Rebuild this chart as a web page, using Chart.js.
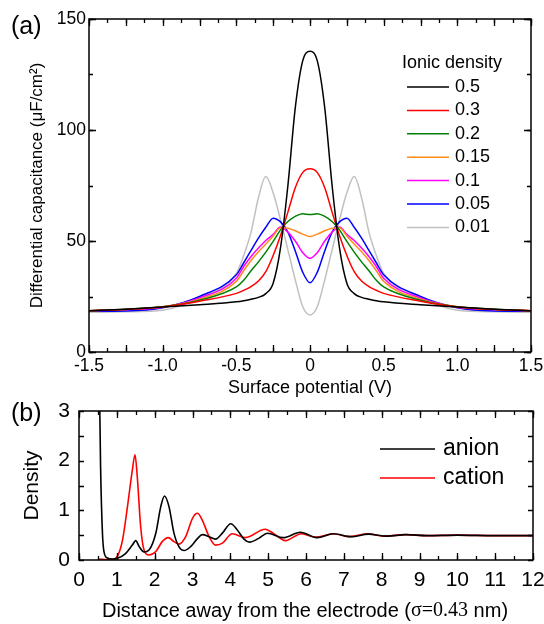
<!DOCTYPE html>
<html>
<head>
<meta charset="utf-8">
<script src="https://cdn.jsdelivr.net/npm/chart.js@4.4.0/dist/chart.umd.min.js"></script>
<style>
  body { margin: 0; background: #fff; }
  canvas { position: absolute; left: 0; }
  #chartA { top: 0; }
  #chartB { top: 400px; }
</style>
</head>
<body>
<canvas id="chartA" width="544" height="400"></canvas>
<canvas id="chartB" width="544" height="224"></canvas>
<script>
//#region Data (a)
const potential = [-1.5, -1.25, -1.0, -0.75, -0.5, -0.45, -0.4, -0.35, -0.3, -0.25, -0.2, -0.15, -0.1, -0.05, 0,
    0.05, 0.1, 0.15, 0.2, 0.25, 0.3, 0.35, 0.4, 0.45, 0.5, 0.75, 1.0, 1.25, 1.5]
const ionicDensity = ['0.5', '0.3', '0.2', '0.15', '0.1', '0.05', '0.01']

const cap05 = [18.6, 19.3, 20.3, 21.3, 22.6, 23.1, 23.8, 24.6, 26.3, 31, 47, 75, 110, 131, 135.5,
    131, 110, 75, 47, 31, 26.3, 24.6, 23.8, 23.1, 22.6, 21.3, 20.3, 19.3, 18.6]
const cap03 = [18.6, 19.2, 20.3, 22.9, 26.4, 27.8, 29.5, 32, 36.2, 43.5, 52.5, 63, 74, 80.8, 82.5,
    80.8, 74, 63, 52.5, 43.5, 36.2, 32, 29.5, 27.8, 26.4, 22.9, 20.3, 19.2, 18.6]
const cap02 = [18.6, 19.3, 20.4, 23.3, 29.3, 32.3, 36.6, 40.6, 45, 49.8, 55, 58.8, 61.1, 62.3, 61.9,
    62.3, 61.1, 58.8, 55, 49.8, 45, 40.6, 36.6, 32.3, 29.3, 23.3, 20.4, 19.3, 18.6]
const cap015 = [18.6, 19.2, 20.4, 23.8, 31.8, 36.6, 41.2, 45.2, 48.6, 52.3, 56, 55.7, 54.6, 53.1, 52,
    53.1, 54.6, 55.7, 56, 52.3, 48.6, 45.2, 41.2, 36.6, 31.8, 23.8, 20.4, 19.2, 18.6]
const cap01 = [18.6, 19.1, 20.2, 24.3, 33.2, 38.5, 43, 46.8, 50.2, 53, 56.3, 54, 50, 44.8, 42.2,
    44.8, 50, 54, 56.3, 53, 50.2, 46.8, 43, 38.5, 33.2, 24.3, 20.2, 19.1, 18.6]
const cap005 = [18.4, 18.5, 19.9, 25, 34.8, 40.2, 45.8, 51.3, 56.2, 60.3, 58.6, 54, 45.5, 36, 31.2,
    36, 45.5, 54, 58.6, 60.3, 56.2, 51.3, 45.8, 40.2, 34.8, 25, 19.9, 18.5, 18.4]
const cap001 = [17.9, 18.1, 18.8, 24.6, 35.4, 43.5, 54, 69.5, 79, 71.7, 59.5, 46, 32.5, 20.5, 16.7,
    20.5, 32.5, 46, 59.5, 71.7, 79, 69.5, 54, 43.5, 35.4, 24.6, 18.8, 18.1, 17.9]
const capacitance = [cap05, cap03, cap02, cap015, cap01, cap005, cap001]

const potentialTicks = [-1.5, -1.0, -0.5, 0, 0.5, 1.0, 1.5]
const capacitanceTicks = [0, 50, 100, 150]
//#endregion

//#region Data (b)
const anionDistance = [0.54, 0.57, 0.62, 0.66, 0.75, 0.88, 1.0, 1.23, 1.41, 1.5, 1.59, 1.72, 1.85, 2.03, 2.16,
    2.26, 2.38, 2.51, 2.64, 2.78, 2.95, 3.13, 3.26, 3.44, 3.61, 3.79, 4.01, 4.19, 4.36, 4.51, 4.76, 4.98,
    5.4, 5.85, 6.3, 6.72, 7.2, 7.65, 8.15, 8.65, 9.2, 10, 11, 12]
const anionDensity = [3.6, 1.9, 0.54, 0.17, 0.04, 0.02, 0.03, 0.13, 0.3, 0.39, 0.27, 0.16, 0.2, 0.54, 1.07,
    1.29, 1.07, 0.54, 0.27, 0.19, 0.27, 0.43, 0.51, 0.47, 0.42, 0.54, 0.73, 0.6, 0.42, 0.36, 0.44, 0.54,
    0.45, 0.56, 0.45, 0.53, 0.47, 0.52, 0.48, 0.51, 0.49, 0.5, 0.49, 0.49]
const cationDistance = [0.5, 0.85, 1.01, 1.15, 1.28, 1.41, 1.48, 1.54, 1.63, 1.72, 1.85, 2.03, 2.2, 2.36,
    2.51, 2.64, 2.82, 3.0, 3.13, 3.26, 3.44, 3.61, 3.79, 4.05, 4.4, 4.92, 5.15, 5.45, 5.88, 6.25, 6.73,
    7.15, 7.6, 8.1, 8.6, 9.2, 10, 11, 12]
const cationDensity = [0.02, 0.0, 0.07, 0.4, 1.07, 1.81, 2.12, 1.68, 0.67, 0.2, 0.1, 0.17, 0.37, 0.45,
    0.37, 0.32, 0.47, 0.84, 0.94, 0.8, 0.47, 0.3, 0.34, 0.53, 0.45, 0.62, 0.53, 0.39, 0.53, 0.46, 0.53,
    0.47, 0.53, 0.48, 0.51, 0.49, 0.5, 0.49, 0.49]
const ionLabels = ['anion', 'cation']
//#endregion

const SANS = "'Liberation Sans', Arial, sans-serif"
const SERIF = "'Liberation Serif', 'Times New Roman', serif"
const lineColors = ['#000000', '#ff0000', '#008000', '#ff8c1a', '#ff00ff', '#0000ff', '#c0c0c0']

Chart.defaults.font.family = SANS
Chart.defaults.color = '#000'

//#region Plugins
// box + inward ticks on all four sides
const frameTicks = {
    id: 'frameTicks',
    afterDraw(chart, args, opts) {
        const { ctx, chartArea: a, scales } = chart
        ctx.save()
        ctx.strokeStyle = '#000'
        ctx.lineWidth = 1.3
        const marks = (scale, list, horizontal) => {
            list.forEach(({ step, len }) => {
                const n = Math.round((scale.max - scale.min) / step)
                for (let i = 0; i <= n; i++) {
                    const p = Math.round(scale.getPixelForValue(scale.min + i * step)) + 0.5
                    ctx.beginPath()
                    if (horizontal) {
                        ctx.moveTo(p, a.bottom); ctx.lineTo(p, a.bottom - len)
                        ctx.moveTo(p, a.top); ctx.lineTo(p, a.top + len)
                    } else {
                        ctx.moveTo(a.left, p); ctx.lineTo(a.left + len, p)
                        ctx.moveTo(a.right, p); ctx.lineTo(a.right - len, p)
                    }
                    ctx.stroke()
                }
            })
        }
        marks(scales.x, opts.x, true)
        marks(scales.y, opts.y, false)
        ctx.lineWidth = 1.5
        ctx.strokeRect(a.left, a.top, a.right - a.left, a.bottom - a.top)
        ctx.restore()
    }
}

// legend drawn from the datasets
const legendBox = {
    id: 'legendBox',
    afterDraw(chart, args, o) {
        const { ctx } = chart
        ctx.save()
        ctx.font = `${o.size}px ${SANS}`
        ctx.fillStyle = '#000'
        ctx.textBaseline = 'middle'
        if (o.title) ctx.fillText(o.title, o.titleX, o.titleY)
        chart.data.datasets.forEach((ds, i) => {
            const y = o.y + i * o.dy
            ctx.strokeStyle = ds.borderColor
            ctx.lineWidth = 1.5
            ctx.beginPath()
            ctx.moveTo(o.x, y)
            ctx.lineTo(o.x + o.lineLen, y)
            ctx.stroke()
            ctx.fillText(ds.label, o.x + o.lineLen + o.gap, y)
        })
        ctx.restore()
    }
}

const panelText = {
    id: 'panelText',
    afterDraw(chart, args, o) {
        const { ctx } = chart
        ctx.save()
        ctx.fillStyle = '#000'
        ctx.textBaseline = 'middle'
        o.items.forEach(item => {
            let w = 0
            item.parts.forEach(p => { ctx.font = p.font; w += ctx.measureText(p.text).width })
            let x = item.align === 'center' ? item.x - w / 2 : item.x
            item.parts.forEach(p => {
                ctx.font = p.font
                ctx.fillText(p.text, x, item.y)
                x += ctx.measureText(p.text).width
            })
        })
        ctx.restore()
    }
}
//#endregion

//#region Chart (a)
new Chart('chartA', {
    type: 'line',
    data: {
        datasets: ionicDensity.map((label, i) => ({
            label,
            data: potential.map((v, j) => ({ x: v, y: capacitance[i][j] })),
            borderColor: lineColors[i],
            borderWidth: 1.5,
            pointRadius: 0,
            cubicInterpolationMode: 'monotone',
            fill: false
        }))
    },
    options: {
        responsive: false,
        animation: false,
        layout: { padding: { top: 19, right: 13, left: 0, bottom: 0 } },
        scales: {
            x: {
                type: 'linear', min: -1.5, max: 1.5,
                afterBuildTicks: s => { s.ticks = potentialTicks.map(value => ({ value })) },
                ticks: {
                    padding: 4, maxRotation: 0, autoSkip: false, font: { size: 17.5 },
                    callback: v => v === 0 ? '0' : v.toFixed(1)
                },
                grid: { display: false, drawTicks: false },
                border: { display: false },
                title: { display: true, text: 'Surface potential (V)', font: { size: 18 }, padding: { top: 0, bottom: 1 } },
                afterFit: s => { s.height = 48; s.paddingLeft = 0; s.paddingRight = 0 }
            },
            y: {
                min: 0, max: 150,
                afterBuildTicks: s => { s.ticks = capacitanceTicks.map(value => ({ value })) },
                ticks: { padding: 3, font: { size: 17.5 } },
                grid: { display: false, drawTicks: false },
                border: { display: false },
                title: { display: true, text: 'Differential capacitance (μF/cm²)', font: { size: 17 }, padding: { top: 27, bottom: 0 } },
                afterFit: s => { s.width = 89; s.paddingTop = 0; s.paddingBottom = 0 }
            }
        },
        plugins: {
            legend: { display: false },
            tooltip: { enabled: false },
            frameTicks: {
                x: [{ step: 0.25, len: 7 }, { step: 0.125, len: 4 }],
                y: [{ step: 50, len: 7 }, { step: 25, len: 4 }]
            },
            legendBox: { size: 18, title: 'Ionic density', titleX: 402, titleY: 63, x: 407, y: 87, dy: 23.4, lineLen: 42, gap: 6 },
            panelText: { items: [{ x: 11, y: 27, parts: [{ text: '(a)', font: `25px ${SANS}` }] }] }
        }
    },
    plugins: [frameTicks, legendBox, panelText]
})
//#endregion

//#region Chart (b)
new Chart('chartB', {
    type: 'line',
    data: {
        datasets: [
            { label: ionLabels[0], data: anionDistance.map((d, i) => ({ x: d, y: anionDensity[i] })), borderColor: '#000000' },
            { label: ionLabels[1], data: cationDistance.map((d, i) => ({ x: d, y: cationDensity[i] })), borderColor: '#ff0000' }
        ].map(ds => ({ ...ds, borderWidth: 1.6, pointRadius: 0, cubicInterpolationMode: 'monotone', fill: false }))
    },
    options: {
        responsive: false,
        animation: false,
        layout: { padding: { top: 11, right: 11, left: 0, bottom: 0 } },
        scales: {
            x: {
                type: 'linear', min: 0, max: 12,
                ticks: { stepSize: 1, padding: 8, maxRotation: 0, autoSkip: false, font: { size: 21 } },
                grid: { display: false, drawTicks: false },
                border: { display: false },
                afterFit: s => { s.height = 64; s.paddingLeft = 0; s.paddingRight = 0 }
            },
            y: {
                min: 0, max: 3,
                ticks: { stepSize: 1, padding: 9, font: { size: 21 } },
                grid: { display: false, drawTicks: false },
                border: { display: false },
                title: { display: true, text: 'Density', font: { size: 21 }, padding: { top: 20, bottom: 0 } },
                afterFit: s => { s.width = 79; s.paddingTop = 0; s.paddingBottom = 0 }
            }
        },
        plugins: {
            legend: { display: false },
            tooltip: { enabled: false },
            frameTicks: {
                x: [{ step: 1, len: 7 }, { step: 0.5, len: 4 }],
                y: [{ step: 0.5, len: 5 }]
            },
            legendBox: { size: 23, x: 380, y: 49, dy: 29, lineLen: 55, gap: 8 },
            panelText: {
                items: [
                    { x: 11, y: 14, parts: [{ text: '(b)', font: `25px ${SANS}` }] },
                    {
                        x: 305, y: 211, align: 'center', parts: [
                            { text: 'Distance away from the electrode (', font: `20px ${SANS}` },
                            { text: 'σ=0.43', font: `20px ${SERIF}` },
                            { text: ' nm)', font: `20px ${SANS}` }
                        ]
                    }
                ]
            }
        }
    },
    plugins: [frameTicks, legendBox, panelText]
})
//#endregion
</script>
</body>
</html>
